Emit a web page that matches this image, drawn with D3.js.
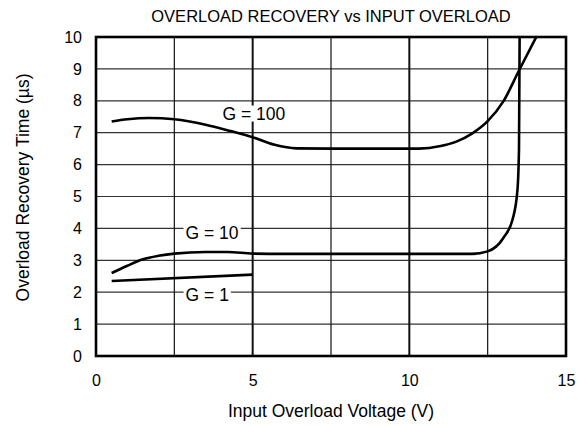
<!DOCTYPE html>
<html><head><meta charset="utf-8">
<script src="https://cdn.jsdelivr.net/npm/d3@7"></script>
<style>body{margin:0;background:#fff}svg{display:block}text{font-family:"Liberation Sans",Arial,sans-serif;fill:#000}</style>
</head><body><svg id="c" width="583" height="426"></svg>
<script>
const title = "OVERLOAD RECOVERY vs INPUT OVERLOAD";
const xTitle = "Input Overload Voltage (V)";
const yTitle = "Overload Recovery Time (µs)";
const xTicks = [0, 5, 10, 15];
const xGrid = [2.5, 5, 7.5, 10, 12.5];
const xGridMajor = [5, 10];
const yTicks = [0,1,2,3,4,5,6,7,8,9,10];
const g100 = [[0.5,7.35],[1,7.42],[1.7,7.46],[2.5,7.42],[3.5,7.25],[4.3,7.05],[5,6.86],[5.7,6.62],[6.4,6.51],[7.5,6.5],[9,6.5],[10.3,6.5],[11,6.58],[11.5,6.72],[12,6.97],[12.5,7.36],[13,7.98],[13.5,8.95],[14.05,10]];
const g10 = [[0.5,2.6],[1,2.83],[1.5,3.03],[2,3.14],[2.5,3.21],[3.5,3.26],[4.2,3.26],[5,3.21],[6,3.2],[8,3.2],[10,3.2],[12,3.2],[12.5,3.28],[13,3.7],[13.3,4.3],[13.45,5.2],[13.5,6.5],[13.52,10]];
const g1 = [[0.5,2.35],[5,2.55]];
const labels = [{t:"G = 100",x:5.04,y:7.6},{t:"G = 10",x:3.7,y:3.85},{t:"G = 1",x:3.55,y:1.92}];

const svg = d3.select("#c");
const m = {l:96,r:17,t:37,b:70};
const W = 583, H = 426;
const x = d3.scaleLinear().domain([0,15]).range([m.l, W-m.r]);
const y = d3.scaleLinear().domain([0,10]).range([H-m.b, m.t]);

// grid
svg.append("g").selectAll("line").data(yTicks.slice(1,-1)).join("line")
  .attr("x1",x(0)).attr("x2",x(15)).attr("y1",d=>y(d)).attr("y2",d=>y(d))
  .attr("stroke","#333").attr("stroke-width",1.2);
svg.append("g").selectAll("line").data(xGrid).join("line")
  .attr("y1",y(0)).attr("y2",y(10)).attr("x1",d=>x(d)).attr("x2",d=>x(d))
  .attr("stroke","#111").attr("stroke-width",d=>xGridMajor.includes(d)?2:1.2);

// curves
const line = d3.line().x(d=>x(d[0])).y(d=>y(d[1])).curve(d3.curveMonotoneX);
[g100,g10,g1].forEach(s=>{
  svg.append("path").attr("d",line(s)).attr("fill","none").attr("stroke","#000").attr("stroke-width",2.6);
});

// labels with white boxes
labels.forEach(L=>{
  const t = svg.append("text").attr("x",x(L.x)).attr("y",y(L.y)).attr("text-anchor","middle")
    .attr("dominant-baseline","central").style("font-size","17.5px").text(L.t);
  const b = t.node().getBBox();
  svg.insert("rect", "path").attr("x",b.x-2).attr("y",b.y+2).attr("width",b.width+4).attr("height",b.height-4).attr("fill","#fff");
});

// frame
svg.append("rect").attr("x",x(0)).attr("y",y(10)).attr("width",x(15)-x(0)).attr("height",y(0)-y(10))
  .attr("fill","none").attr("stroke","#000").attr("stroke-width",2.6);

// axes text
const xa = d3.axisBottom(x).tickValues(xTicks).tickSize(0).tickPadding(19);
svg.append("g").attr("transform",`translate(0,${y(0)})`).call(xa)
  .call(g=>g.select(".domain").remove())
  .call(g=>g.selectAll("text").style("font-size","16px").attr("font-family",null));
const ya = d3.axisLeft(y).tickValues(yTicks).tickSize(0).tickPadding(14);
svg.append("g").attr("transform",`translate(${x(0)},0)`).call(ya)
  .call(g=>g.select(".domain").remove())
  .call(g=>g.selectAll("text").style("font-size","16px").attr("font-family",null));

svg.append("text").attr("x",(x(0)+x(15))/2).attr("y",22).attr("text-anchor","middle").style("font-size","16.5px").text(title);
svg.append("text").attr("x",(x(0)+x(15))/2).attr("y",417).attr("text-anchor","middle").style("font-size","17.5px").text(xTitle);
svg.append("text").attr("transform",`translate(29,187.5) rotate(-90)`).attr("text-anchor","middle").style("font-size","17.5px").text(yTitle);
</script></body></html>
